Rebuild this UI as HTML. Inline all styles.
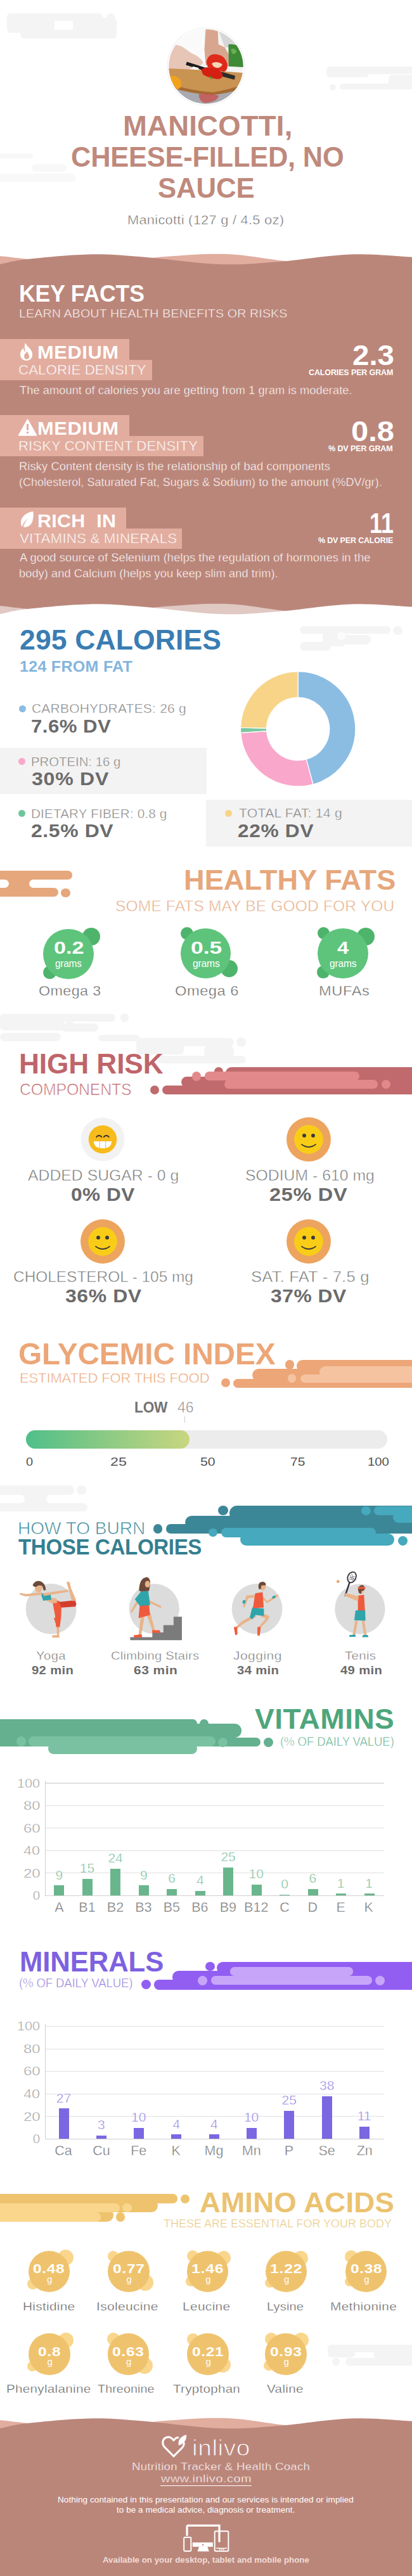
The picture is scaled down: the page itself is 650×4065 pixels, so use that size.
<!DOCTYPE html>
<html><head><meta charset="utf-8"><style>
html,body{margin:0;padding:0;background:#fff;}
body{width:650px;height:4065px;position:relative;overflow:hidden;font-family:"Liberation Sans",sans-serif;}
.t{position:absolute;white-space:pre;}
.b{position:absolute;}
</style></head><body>
<div class="b" style="left:10.7px;top:20.7px;width:151.0px;height:12.6px;background:#f4f4f4;border-radius:6.3px;"></div>
<div class="b" style="left:10.7px;top:20.7px;width:75.7px;height:31.3px;background:#f4f4f4;border-radius:6.0px;"></div>
<div class="b" style="left:115.0px;top:28.0px;width:69.0px;height:32.5px;background:#f4f4f4;border-radius:6.0px;"></div>
<div class="b" style="left:31.6px;top:47.0px;width:151.9px;height:13.5px;background:#f4f4f4;border-radius:6.8px;"></div>
<div class="b" style="left:167.5px;top:20.5px;width:13.0px;height:13.0px;background:#f4f4f4;border-radius:50%;"></div>
<div class="b" style="left:514.6px;top:104.6px;width:145.4px;height:12.7px;background:#f4f4f4;border-radius:6.4px;"></div>
<div class="b" style="left:514.6px;top:104.6px;width:67.4px;height:17.4px;background:#f4f4f4;border-radius:6.0px;"></div>
<div class="b" style="left:613.0px;top:118.0px;width:47.0px;height:23.0px;background:#f4f4f4;border-radius:6.0px;"></div>
<div class="b" style="left:536.4px;top:131.9px;width:123.6px;height:9.1px;background:#f4f4f4;border-radius:4.5px;"></div>
<div class="b" style="left:519.5px;top:133.0px;width:10.0px;height:10.0px;background:#f4f4f4;border-radius:50%;"></div>
<div class="b" style="left:-10.0px;top:241.6px;width:62.0px;height:8.8px;background:#f8f8f8;border-radius:4.4px;"></div>
<div class="b" style="left:49.5px;top:259.0px;width:55.5px;height:12.0px;background:#f8f8f8;border-radius:6.0px;"></div>
<div class="b" style="left:-10.0px;top:273.7px;width:130.0px;height:13.1px;background:#f8f8f8;border-radius:6.6px;"></div>
<svg class="b" style="left:260px;top:40px" width="130" height="130" viewBox="0 0 412 412">
<defs><clipPath id="ci"><circle cx="206" cy="206" r="186"/></clipPath></defs>
<circle cx="206" cy="206" r="195" fill="#ececec"/>
<circle cx="206" cy="206" r="192" fill="#ffffff"/>
<g clip-path="url(#ci)">
<rect x="0" y="0" width="412" height="412" fill="#f3f3f3"/>
<path d="M260 0 L412 0 L412 110 L300 110 Z" fill="#d6d6d6"/>
<path d="M60 20 L195 20 L205 190 L70 190 Z" fill="#fafafa"/>
<path d="M205 15 L265 15 L268 95 L300 110 L322 150 L325 205 L205 200 L198 120 Z" fill="#d8a68f"/>
<path d="M318 95 Q360 90 395 120 L400 210 L320 205 Z" fill="#3e8a36"/>
<path d="M330 120 Q345 110 360 130 Q350 150 335 140 Z" fill="#69ad55"/>
<path d="M0 95 Q40 90 85 105 L135 140 Q175 155 192 185 Q185 205 160 200 L115 225 L60 230 L0 225 Z" fill="#e7c5b7"/>
<path d="M0 300 L412 300 L412 412 L0 412 Z" fill="#a9a9b1"/>
<path d="M15 215 Q200 222 400 238 L400 300 Q300 325 240 340 Q120 335 15 300 Z" fill="#c99352"/>
<path d="M15 290 Q120 325 240 335 Q320 322 400 295 L400 310 Q320 340 240 348 Q120 342 15 305 Z" fill="#a56a31"/>
<path d="M110 182 L205 212 L200 228 L105 198 Z" fill="#1c1c1c"/>
<path d="M205 210 L352 252 L348 272 L200 232 Z" fill="#2b2b2b"/>
<path d="M140 205 L170 213 L168 222 L138 214 Z" fill="#ffffff"/>
<path d="M208 185 Q215 140 260 145 Q300 150 312 190 Q318 225 295 232 L270 225 Q240 212 215 210 Z" fill="#de2a1a"/>
<path d="M235 190 Q260 175 288 195 Q280 215 258 212 Q240 208 235 190 Z" fill="#f3d6b8"/>
<path d="M182 222 Q200 205 240 212 Q285 220 290 250 Q285 272 255 268 Q215 262 190 245 Z" fill="#d51f12"/>
<path d="M222 255 Q230 250 240 262 L232 270 Z" fill="#5a8a2a"/>
<path d="M25 255 Q55 245 80 275 Q88 305 70 318 Q45 322 30 300 Z" fill="#f2a11e"/>
<path d="M170 345 Q220 335 270 352 Q260 385 200 388 Q170 380 170 345 Z" fill="#c84c48" opacity="0.75"/>
</g></svg>
<div class="t" style="left:193.75px;top:177.15px;font-size:44.30px;line-height:44.30px;color:#bf897c;font-weight:bold;letter-spacing:0.237px;transform:scaleX(1.0260);transform-origin:0 0;">MANICOTTI,</div>
<div class="t" style="left:111.57px;top:226.24px;font-size:44.30px;line-height:44.30px;color:#bf897c;font-weight:bold;letter-spacing:-0.196px;transform:scaleX(0.9791);transform-origin:0 0;">CHEESE-FILLED, NO</div>
<div class="t" style="left:249.21px;top:274.95px;font-size:44.30px;line-height:44.30px;color:#bf897c;font-weight:bold;letter-spacing:-0.151px;transform:scaleX(0.9882);transform-origin:0 0;">SAUCE</div>
<div class="t" style="left:201.25px;top:337.00px;font-size:20.00px;line-height:20.00px;color:#666666;letter-spacing:0.244px;transform:scaleX(1.0918);transform-origin:0 0;-webkit-text-stroke:0.50px #fff;">Manicotti (127 g / 4.5 oz)</div>
<svg class="b" style="left:0;top:390px" width="650" height="600" viewBox="0 390 650 600"><path d="M-10.00 403.50 C-8.33 403.58 -9.17 403.08 0.00 404.00 C9.17 404.92 21.83 406.67 45.00 409.00 C68.17 411.33 103.17 418.67 139.00 418.00 C174.83 417.33 223.33 407.83 260.00 405.00 C296.67 402.17 327.17 399.83 359.00 401.00 C390.83 402.17 418.67 408.83 451.00 412.00 C483.33 415.17 519.83 419.67 553.00 420.00 C586.17 420.33 632.17 415.17 650.00 414.00 C667.83 412.83 658.33 413.17 660.00 413.00 L660.00 440.00 L-10.00 440.00 Z" fill="#e1ad9f"/><path d="M-10.00 419.00 C-8.33 418.67 -8.83 418.67 0.00 417.00 C8.83 415.33 19.83 411.60 43.00 409.00 C66.17 406.40 109.50 402.07 139.00 401.40 C168.50 400.73 185.50 402.40 220.00 405.00 C254.50 407.60 309.33 415.67 346.00 417.00 C382.67 418.33 405.50 415.60 440.00 413.00 C474.50 410.40 518.00 402.63 553.00 401.40 C588.00 400.17 632.17 404.75 650.00 405.60 C667.83 406.45 658.33 406.35 660.00 406.50 L660.00 990.00 L-10.00 990.00 Z" fill="#bb867a"/><path d="M-10.00 955.50 C-8.33 955.58 -9.17 955.08 0.00 956.00 C9.17 956.92 21.83 958.67 45.00 961.00 C68.17 963.33 103.17 970.67 139.00 970.00 C174.83 969.33 223.33 959.83 260.00 957.00 C296.67 954.17 327.17 951.83 359.00 953.00 C390.83 954.17 418.67 960.83 451.00 964.00 C483.33 967.17 519.83 971.67 553.00 972.00 C586.17 972.33 632.17 967.17 650.00 966.00 C667.83 964.83 658.33 965.17 660.00 965.00 L660.00 990.00 L-10.00 990.00 Z" fill="#ffffff" opacity="0.55"/><path d="M-10.00 971.00 C-8.33 970.67 -8.83 970.67 0.00 969.00 C8.83 967.33 19.83 963.60 43.00 961.00 C66.17 958.40 109.50 954.07 139.00 953.40 C168.50 952.73 185.50 954.40 220.00 957.00 C254.50 959.60 309.33 967.67 346.00 969.00 C382.67 970.33 405.50 967.60 440.00 965.00 C474.50 962.40 518.00 954.63 553.00 953.40 C588.00 952.17 632.17 956.75 650.00 957.60 C667.83 958.45 658.33 958.35 660.00 958.50 L660.00 990.00 L-10.00 990.00 Z" fill="#ffffff"/></svg>
<div class="t" style="left:29.69px;top:446.23px;font-size:36.20px;line-height:36.20px;color:#ffffff;font-weight:bold;letter-spacing:-0.141px;transform:scaleX(0.9833);transform-origin:0 0;">KEY FACTS</div>
<div class="t" style="left:30.43px;top:485.25px;font-size:19.00px;line-height:19.00px;color:#ffffff;letter-spacing:0.121px;transform:scaleX(1.0326);transform-origin:0 0;-webkit-text-stroke:0.50px #bb867a;">LEARN ABOUT HEALTH BENEFITS OR RISKS</div>
<div class="b" style="left:0.0px;top:535.0px;width:204.0px;height:33.0px;background:#e2ad9f;border-radius:0.0px;"></div>
<div class="b" style="left:0.0px;top:567.5px;width:240.3px;height:32.0px;background:#e2ad9f;border-radius:0.0px;"></div>
<div class="t" style="left:59.00px;top:541.65px;font-size:29.00px;line-height:29.00px;color:#ffffff;font-weight:bold;letter-spacing:0.575px;transform:scaleX(1.0626);transform-origin:0 0;">MEDIUM</div>
<div class="t" style="left:29.38px;top:572.60px;font-size:22.00px;line-height:22.00px;color:#ffffff;letter-spacing:0.064px;transform:scaleX(1.0139);transform-origin:0 0;-webkit-text-stroke:0.50px #e2ad9f;">CALORIE DENSITY</div>
<div class="t" style="left:556.18px;top:538.67px;font-size:44.50px;line-height:44.50px;color:#ffffff;font-weight:bold;transform:scaleX(1.0668);transform-origin:0 0;">2.3</div>
<div class="t" style="left:486.80px;top:580.85px;font-size:13.00px;line-height:13.00px;color:#ffffff;font-weight:bold;letter-spacing:-0.120px;transform:scaleX(0.9603);transform-origin:0 0;">CALORIES PER GRAM</div>
<div class="t" style="left:30.64px;top:607.83px;font-size:17.50px;line-height:17.50px;color:#ffffff;letter-spacing:0.099px;transform:scaleX(1.0386);transform-origin:0 0;-webkit-text-stroke:0.40px #bb867a;">The amount of calories you are getting from 1 gram is moderate.</div>
<div class="b" style="left:0.0px;top:655.0px;width:204.0px;height:33.0px;background:#e2ad9f;border-radius:0.0px;"></div>
<div class="b" style="left:0.0px;top:687.5px;width:320.9px;height:32.0px;background:#e2ad9f;border-radius:0.0px;"></div>
<div class="t" style="left:59.00px;top:661.65px;font-size:29.00px;line-height:29.00px;color:#ffffff;font-weight:bold;letter-spacing:0.575px;transform:scaleX(1.0626);transform-origin:0 0;">MEDIUM</div>
<div class="t" style="left:28.72px;top:692.60px;font-size:22.00px;line-height:22.00px;color:#ffffff;letter-spacing:0.047px;transform:scaleX(1.0104);transform-origin:0 0;-webkit-text-stroke:0.50px #e2ad9f;">RISKY CONTENT DENSITY</div>
<div class="t" style="left:553.69px;top:658.67px;font-size:44.50px;line-height:44.50px;color:#ffffff;font-weight:bold;transform:scaleX(1.0999);transform-origin:0 0;">0.8</div>
<div class="t" style="left:518.45px;top:700.85px;font-size:13.00px;line-height:13.00px;color:#ffffff;font-weight:bold;letter-spacing:-0.111px;transform:scaleX(0.9637);transform-origin:0 0;">% DV PER GRAM</div>
<div class="t" style="left:29.54px;top:727.83px;font-size:17.50px;line-height:17.50px;color:#ffffff;letter-spacing:0.111px;transform:scaleX(1.0435);transform-origin:0 0;-webkit-text-stroke:0.40px #bb867a;">Risky Content density is the relationship of bad components</div>
<div class="t" style="left:29.93px;top:752.53px;font-size:17.50px;line-height:17.50px;color:#ffffff;letter-spacing:0.062px;transform:scaleX(1.0233);transform-origin:0 0;-webkit-text-stroke:0.40px #bb867a;">(Cholesterol, Saturated Fat, Sugars &amp; Sodium) to the amount (%DV/gr).</div>
<div class="b" style="left:0.0px;top:801.0px;width:199.0px;height:33.0px;background:#e2ad9f;border-radius:0.0px;"></div>
<div class="b" style="left:0.0px;top:833.5px;width:287.4px;height:32.0px;background:#e2ad9f;border-radius:0.0px;"></div>
<div class="t" style="left:59.02px;top:807.65px;font-size:29.00px;line-height:29.00px;color:#ffffff;font-weight:bold;letter-spacing:0.318px;transform:scaleX(1.0485);transform-origin:0 0;">RICH  IN</div>
<div class="t" style="left:30.50px;top:838.60px;font-size:22.00px;line-height:22.00px;color:#ffffff;letter-spacing:0.089px;transform:scaleX(1.0203);transform-origin:0 0;-webkit-text-stroke:0.50px #e2ad9f;">VITAMINS &amp; MINERALS</div>
<div class="t" style="left:583.14px;top:804.27px;font-size:44.50px;line-height:44.50px;color:#ffffff;font-weight:bold;transform:scaleX(0.8085);transform-origin:0 0;">11</div>
<div class="t" style="left:501.55px;top:846.25px;font-size:13.00px;line-height:13.00px;color:#ffffff;font-weight:bold;letter-spacing:-0.128px;transform:scaleX(0.9560);transform-origin:0 0;">% DV PER CALORIE</div>
<div class="t" style="left:31.00px;top:872.33px;font-size:17.50px;line-height:17.50px;color:#ffffff;letter-spacing:0.114px;transform:scaleX(1.0446);transform-origin:0 0;-webkit-text-stroke:0.40px #bb867a;">A good source of Selenium (helps the regulation of hormones in the</div>
<div class="t" style="left:29.91px;top:896.62px;font-size:17.50px;line-height:17.50px;color:#ffffff;letter-spacing:0.098px;transform:scaleX(1.0379);transform-origin:0 0;-webkit-text-stroke:0.40px #bb867a;">body) and Calcium (helps you keep slim and trim).</div>
<svg class="b" style="left:30px;top:541px" width="24" height="28" viewBox="0 0 24 28">
<path d="M10 0 C12 6 20 9 21 17 C22 24 17 28 12 28 C6 28 2 24 2 18 C2 13 5 10 7 8 C7 12 9 14 10 14 C9 9 8 5 10 0 Z M12 26 C15 26 17 23 16 20 C15 17 13 16 13 13 C11 16 8 18 8 21 C8 24 10 26 12 26 Z" fill="#ffffff" fill-rule="evenodd"/>
</svg>
<svg class="b" style="left:29px;top:661px" width="29" height="27" viewBox="0 0 29 27">
<path d="M14.5 1 L28.5 26 L0.5 26 Z" fill="#ffffff" stroke="#ffffff" stroke-width="1.5" stroke-linejoin="round"/>
<rect x="13" y="8" width="3" height="10" fill="#e2ad9f"/>
<rect x="13" y="20" width="3" height="3" fill="#e2ad9f"/>
</svg>
<svg class="b" style="left:32px;top:807px" width="22" height="26" viewBox="0 0 22 26">
<path d="M20 0 C8 2 0 10 1 19 C1 21 2 23 3 24 C5 18 8 14 12 11 C9 15 6 19 5 25 C13 26 19 20 20 12 C21 8 21 3 20 0 Z" fill="#ffffff"/>
</svg>
<div class="b" style="left:472.9px;top:987.9px;width:142.8px;height:11.8px;background:#f4f4f4;border-radius:5.9px;"></div>
<div class="b" style="left:620.4px;top:987.7px;width:14.6px;height:14.6px;background:#f4f4f4;border-radius:50%;"></div>
<div class="b" style="left:508.7px;top:990.0px;width:36.3px;height:30.0px;background:#f4f4f4;border-radius:6.0px;"></div>
<div class="b" style="left:530.0px;top:1001.8px;width:55.0px;height:15.3px;background:#f4f4f4;border-radius:7.7px;"></div>
<div class="b" style="left:472.9px;top:1012.8px;width:48.9px;height:14.4px;background:#f4f4f4;border-radius:7.2px;"></div>
<div class="b" style="left:531.5px;top:996.5px;width:13.0px;height:13.0px;background:#fcfcfc;border-radius:50%;"></div>
<div class="t" style="left:30.66px;top:988.00px;font-size:44.00px;line-height:44.00px;color:#3a7db3;font-weight:bold;letter-spacing:0.113px;transform:scaleX(1.0121);transform-origin:0 0;">295 CALORIES</div>
<div class="t" style="left:30.70px;top:1040.83px;font-size:23.50px;line-height:23.50px;color:#84b5dd;font-weight:bold;letter-spacing:0.293px;transform:scaleX(1.0632);transform-origin:0 0;">124 FROM FAT</div>
<div class="b" style="left:0.0px;top:1180.0px;width:326.0px;height:73.4px;background:#f3f3f3;border-radius:0.0px;"></div>
<div class="b" style="left:325.0px;top:1262.0px;width:325.0px;height:74.0px;background:#f3f3f3;border-radius:0.0px;"></div>
<div class="b" style="left:29.9px;top:1112.7px;width:11.2px;height:11.2px;background:#8bbde3;border-radius:50%;"></div>
<div class="t" style="left:50.05px;top:1108.30px;font-size:20.00px;line-height:20.00px;color:#7a7a7a;letter-spacing:0.197px;transform:scaleX(1.0494);transform-origin:0 0;-webkit-text-stroke:0.50px #fff;">CARBOHYDRATES: 26 g</div>
<div class="t" style="left:49.05px;top:1132.45px;font-size:29.00px;line-height:29.00px;color:#6b6b6b;font-weight:bold;letter-spacing:0.438px;transform:scaleX(1.0749);transform-origin:0 0;">7.6% DV</div>
<div class="b" style="left:29.2px;top:1195.9px;width:11.2px;height:11.2px;background:#f9a8cb;border-radius:50%;"></div>
<div class="t" style="left:49.48px;top:1191.70px;font-size:20.00px;line-height:20.00px;color:#7a7a7a;letter-spacing:0.047px;transform:scaleX(1.0127);transform-origin:0 0;-webkit-text-stroke:0.50px #f3f3f3;">PROTEIN: 16 g</div>
<div class="t" style="left:49.66px;top:1215.05px;font-size:29.00px;line-height:29.00px;color:#6b6b6b;font-weight:bold;letter-spacing:0.671px;transform:scaleX(1.1054);transform-origin:0 0;">30% DV</div>
<div class="b" style="left:29.2px;top:1277.9px;width:11.2px;height:11.2px;background:#6ec79a;border-radius:50%;"></div>
<div class="t" style="left:49.44px;top:1273.60px;font-size:20.00px;line-height:20.00px;color:#7a7a7a;letter-spacing:0.122px;transform:scaleX(1.0357);transform-origin:0 0;-webkit-text-stroke:0.50px #fff;">DIETARY FIBER: 0.8 g</div>
<div class="t" style="left:49.34px;top:1297.25px;font-size:29.00px;line-height:29.00px;color:#6b6b6b;font-weight:bold;letter-spacing:0.569px;transform:scaleX(1.0993);transform-origin:0 0;">2.5% DV</div>
<div class="b" style="left:355.1px;top:1277.6px;width:11.2px;height:11.2px;background:#f8d488;border-radius:50%;"></div>
<div class="t" style="left:376.78px;top:1273.20px;font-size:20.00px;line-height:20.00px;color:#7a7a7a;letter-spacing:0.205px;transform:scaleX(1.0615);transform-origin:0 0;-webkit-text-stroke:0.50px #f3f3f3;">TOTAL FAT: 14 g</div>
<div class="t" style="left:375.25px;top:1297.15px;font-size:29.00px;line-height:29.00px;color:#6b6b6b;font-weight:bold;letter-spacing:0.596px;transform:scaleX(1.0928);transform-origin:0 0;">22% DV</div>
<svg class="b" style="left:0;top:0" width="650" height="1300" viewBox="0 0 650 1300"><path d="M470.20 1059.70 A90.60 90.60 0 0 1 493.95 1237.73 L483.20 1198.16 A49.60 49.60 0 0 0 470.20 1100.70 Z" fill="#8bbde3" stroke="#fff" stroke-width="1.2"/><path d="M493.95 1237.73 A90.60 90.60 0 0 1 379.80 1156.30 L420.71 1153.59 A49.60 49.60 0 0 0 483.20 1198.16 Z" fill="#f9a8cb" stroke="#fff" stroke-width="1.2"/><path d="M379.80 1156.30 A90.60 90.60 0 0 1 379.62 1148.24 L420.61 1149.17 A49.60 49.60 0 0 0 420.71 1153.59 Z" fill="#7cc8a0" stroke="#fff" stroke-width="1.2"/><path d="M379.62 1148.24 A90.60 90.60 0 0 1 470.20 1059.70 L470.20 1100.70 A49.60 49.60 0 0 0 420.61 1149.17 Z" fill="#f8d488" stroke="#fff" stroke-width="1.2"/></svg>
<div class="b" style="left:-20.0px;top:1374.2px;width:133.6px;height:13.6px;background:#e6a77c;border-radius:6.8px;"></div>
<div class="b" style="left:-20.0px;top:1401.0px;width:111.5px;height:14.2px;background:#e6a77c;border-radius:7.1px;"></div>
<div class="b" style="left:-20.0px;top:1380.0px;width:100.0px;height:28.0px;background:#e6a77c;border-radius:0.0px;"></div>
<div class="b" style="left:-20.0px;top:1387.8px;width:34.2px;height:13.2px;background:#ffffff;border-radius:6.6px;"></div>
<div class="b" style="left:45.8px;top:1387.8px;width:84.2px;height:13.2px;background:#ffffff;border-radius:6.6px;"></div>
<div class="b" style="left:96.4px;top:1401.6px;width:14.4px;height:14.4px;background:#e6a77c;border-radius:50%;"></div>
<div class="t" style="left:289.86px;top:1365.75px;font-size:45.00px;line-height:45.00px;color:#e6a77c;font-weight:bold;letter-spacing:0.042px;transform:scaleX(1.0043);transform-origin:0 0;">HEALTHY FATS</div>
<div class="t" style="left:181.69px;top:1418.10px;font-size:24.00px;line-height:24.00px;color:#e8b08b;letter-spacing:0.121px;transform:scaleX(1.0247);transform-origin:0 0;-webkit-text-stroke:0.50px #fff;">SOME FATS MAY BE GOOD FOR YOU</div>
<div class="b" style="left:130.0px;top:1463.6px;width:28.0px;height:28.0px;background:#4eb36b;border-radius:50%;"></div>
<div class="b" style="left:67.5px;top:1523.5px;width:21.0px;height:21.0px;background:#4eb36b;border-radius:50%;"></div>
<div class="b" style="left:68.0px;top:1465.6px;width:79.6px;height:79.6px;background:#5ec47c;border-radius:50%;"></div>
<div class="t" style="left:85.20px;top:1482.22px;font-size:27.50px;line-height:27.50px;color:#ffffff;font-weight:bold;transform:scaleX(1.2452);transform-origin:0 0;">0.2</div>
<div class="t" style="left:87.28px;top:1511.97px;font-size:16.50px;line-height:16.50px;color:#ffffff;letter-spacing:-0.263px;transform:scaleX(0.9339);transform-origin:0 0;">grams</div>
<div class="t" style="left:60.55px;top:1554.02px;font-size:21.50px;line-height:21.50px;color:#6a6a6a;letter-spacing:0.371px;transform:scaleX(1.0837);transform-origin:0 0;-webkit-text-stroke:0.40px #fff;">Omega 3</div>
<div class="b" style="left:284.5px;top:1463.0px;width:20.0px;height:20.0px;background:#4eb36b;border-radius:50%;"></div>
<div class="b" style="left:348.0px;top:1515.1px;width:27.0px;height:27.0px;background:#4eb36b;border-radius:50%;"></div>
<div class="b" style="left:284.9px;top:1464.8px;width:79.6px;height:79.6px;background:#5ec47c;border-radius:50%;"></div>
<div class="t" style="left:301.06px;top:1482.22px;font-size:27.50px;line-height:27.50px;color:#ffffff;font-weight:bold;transform:scaleX(1.2905);transform-origin:0 0;">0.5</div>
<div class="t" style="left:303.67px;top:1511.97px;font-size:16.50px;line-height:16.50px;color:#ffffff;letter-spacing:-0.193px;transform:scaleX(0.9507);transform-origin:0 0;">grams</div>
<div class="t" style="left:275.63px;top:1554.02px;font-size:21.50px;line-height:21.50px;color:#6a6a6a;letter-spacing:0.448px;transform:scaleX(1.1028);transform-origin:0 0;-webkit-text-stroke:0.40px #fff;">Omega 6</div>
<div class="b" style="left:500.7px;top:1462.7px;width:19.6px;height:19.6px;background:#4eb36b;border-radius:50%;"></div>
<div class="b" style="left:563.0px;top:1464.0px;width:28.0px;height:28.0px;background:#4eb36b;border-radius:50%;"></div>
<div class="b" style="left:500.2px;top:1524.2px;width:19.6px;height:19.6px;background:#4eb36b;border-radius:50%;"></div>
<div class="b" style="left:501.0px;top:1464.8px;width:79.6px;height:79.6px;background:#5ec47c;border-radius:50%;"></div>
<div class="t" style="left:531.91px;top:1482.22px;font-size:27.50px;line-height:27.50px;color:#ffffff;font-weight:bold;transform:scaleX(1.1852);transform-origin:0 0;">4</div>
<div class="t" style="left:520.18px;top:1511.97px;font-size:16.50px;line-height:16.50px;color:#ffffff;letter-spacing:-0.221px;transform:scaleX(0.9440);transform-origin:0 0;">grams</div>
<div class="t" style="left:502.91px;top:1554.02px;font-size:21.50px;line-height:21.50px;color:#6a6a6a;letter-spacing:0.520px;transform:scaleX(1.1009);transform-origin:0 0;-webkit-text-stroke:0.40px #fff;">MUFAs</div>
<div class="b" style="left:0.0px;top:1599.6px;width:181.5px;height:12.8px;background:#f4f4f4;border-radius:6.4px;"></div>
<div class="b" style="left:189.5px;top:1599.3px;width:13.4px;height:13.4px;background:#f4f4f4;border-radius:50%;"></div>
<div class="b" style="left:0.0px;top:1605.0px;width:101.0px;height:21.0px;background:#f4f4f4;border-radius:6.0px;"></div>
<div class="b" style="left:101.5px;top:1610.5px;width:15.0px;height:15.0px;background:#f4f4f4;border-radius:50%;"></div>
<div class="b" style="left:96.0px;top:1615.0px;width:59.0px;height:13.0px;background:#f4f4f4;border-radius:6.5px;"></div>
<div class="b" style="left:0.0px;top:1630.0px;width:96.0px;height:13.4px;background:#f4f4f4;border-radius:6.7px;"></div>
<div class="b" style="left:155.0px;top:1633.0px;width:65.0px;height:10.4px;background:#f4f4f4;border-radius:5.2px;"></div>
<div class="b" style="left:214.7px;top:1638.4px;width:154.6px;height:12.6px;background:#f4f4f4;border-radius:6.3px;"></div>
<div class="b" style="left:372.5px;top:1637.2px;width:15.0px;height:15.0px;background:#f4f4f4;border-radius:50%;"></div>
<div class="b" style="left:214.7px;top:1645.0px;width:75.7px;height:18.6px;background:#f4f4f4;border-radius:6.0px;"></div>
<div class="b" style="left:322.0px;top:1651.0px;width:47.0px;height:17.0px;background:#f4f4f4;border-radius:6.0px;"></div>
<div class="b" style="left:249.4px;top:1665.5px;width:138.8px;height:12.5px;background:#f4f4f4;border-radius:6.2px;"></div>
<div class="t" style="left:30.12px;top:1655.92px;font-size:44.80px;line-height:44.80px;color:#bf656a;font-weight:bold;letter-spacing:-0.119px;transform:scaleX(0.9877);transform-origin:0 0;">HIGH RISK</div>
<div class="t" style="left:30.56px;top:1706.94px;font-size:25.60px;line-height:25.60px;color:#bf656a;letter-spacing:-0.192px;transform:scaleX(0.9722);transform-origin:0 0;-webkit-text-stroke:0.70px #fff;">COMPONENTS</div>
<div class="b" style="left:236.6px;top:1712.5px;width:14.6px;height:14.6px;background:#c06a6d;border-radius:50%;"></div>
<div class="b" style="left:256.2px;top:1712.5px;width:443.8px;height:14.5px;background:#c06a6d;border-radius:7.2px;"></div>
<div class="b" style="left:286.4px;top:1698.7px;width:413.6px;height:17.3px;background:#c06a6d;border-radius:8.6px;"></div>
<div class="b" style="left:338.4px;top:1684.0px;width:13.6px;height:13.6px;background:#c06a6d;border-radius:50%;"></div>
<div class="b" style="left:355.6px;top:1684.0px;width:344.4px;height:18.0px;background:#c06a6d;border-radius:9.0px;"></div>
<div class="b" style="left:302.7px;top:1691.4px;width:14.6px;height:14.6px;background:#e28a8b;border-radius:50%;"></div>
<div class="b" style="left:322.8px;top:1691.4px;width:244.5px;height:13.6px;background:#e28a8b;border-radius:6.8px;"></div>
<div class="b" style="left:353.8px;top:1704.0px;width:242.7px;height:14.0px;background:#e28a8b;border-radius:7.0px;"></div>
<div class="b" style="left:602.1px;top:1703.8px;width:14.4px;height:14.4px;background:#e28a8b;border-radius:50%;"></div>
<svg class="b" style="left:127.3px;top:1763.2px" width="70" height="70" viewBox="-35 -35 70 70"><circle r="34.5" fill="#f2f2f2"/><circle r="22.3" fill="#f7bb1c"/><path d="M-10 -3 A4.5 4.5 0 0 1 -1.5 -3 M1.5 -3 A4.5 4.5 0 0 1 10 -3" stroke="#333" stroke-width="1.8" fill="none"/><path d="M-14 3 L14 3 Q14 14 0 14 Q-14 14 -14 3 Z" fill="#ffffff"/><path d="M-4.7 3 V13.5 M4.7 3 V13.5" stroke="#bbbbbb" stroke-width="1"/></svg>
<svg class="b" style="left:451.3px;top:1762.2px" width="72" height="72" viewBox="-36 -36 72 72"><circle r="35" fill="#eda45f"/><circle r="22.8" fill="#f9cd17"/><circle cx="-7" cy="-6" r="3" fill="#3a3a3a"/><circle cx="7" cy="-6" r="3" fill="#3a3a3a"/><path d="M-11 8 Q0 16 11 8" stroke="#3a3a3a" stroke-width="1.8" fill="none" stroke-linecap="round"/></svg>
<svg class="b" style="left:125.8px;top:1923.0px" width="72" height="72" viewBox="-36 -36 72 72"><circle r="35" fill="#eda45f"/><circle r="22.8" fill="#f9cd17"/><circle cx="-7" cy="-6" r="3" fill="#3a3a3a"/><circle cx="7" cy="-6" r="3" fill="#3a3a3a"/><path d="M-11 8 Q0 16 11 8" stroke="#3a3a3a" stroke-width="1.8" fill="none" stroke-linecap="round"/></svg>
<svg class="b" style="left:450.8px;top:1923.0px" width="72" height="72" viewBox="-36 -36 72 72"><circle r="35" fill="#eda45f"/><circle r="22.8" fill="#f9cd17"/><circle cx="-7" cy="-6" r="3" fill="#3a3a3a"/><circle cx="7" cy="-6" r="3" fill="#3a3a3a"/><path d="M-11 8 Q0 16 11 8" stroke="#3a3a3a" stroke-width="1.8" fill="none" stroke-linecap="round"/></svg>
<div class="t" style="left:44.30px;top:1843.17px;font-size:24.50px;line-height:24.50px;color:#7b7b7b;letter-spacing:0.042px;transform:scaleX(1.0087);transform-origin:0 0;-webkit-text-stroke:0.50px #fff;">ADDED SUGAR - 0 g</div>
<div class="t" style="left:112.10px;top:1870.42px;font-size:29.50px;line-height:29.50px;color:#6b6b6b;font-weight:bold;letter-spacing:0.493px;transform:scaleX(1.0699);transform-origin:0 0;">0% DV</div>
<div class="t" style="left:386.89px;top:1843.17px;font-size:24.50px;line-height:24.50px;color:#7b7b7b;letter-spacing:0.040px;transform:scaleX(1.0085);transform-origin:0 0;-webkit-text-stroke:0.50px #fff;">SODIUM - 610 mg</div>
<div class="t" style="left:425.03px;top:1870.42px;font-size:29.50px;line-height:29.50px;color:#6b6b6b;font-weight:bold;letter-spacing:0.651px;transform:scaleX(1.1003);transform-origin:0 0;">25% DV</div>
<div class="t" style="left:21.18px;top:2002.97px;font-size:24.50px;line-height:24.50px;color:#7b7b7b;letter-spacing:-0.014px;transform:scaleX(0.9972);transform-origin:0 0;-webkit-text-stroke:0.50px #fff;">CHOLESTEROL - 105 mg</div>
<div class="t" style="left:102.56px;top:2030.02px;font-size:29.50px;line-height:29.50px;color:#6b6b6b;font-weight:bold;letter-spacing:0.546px;transform:scaleX(1.0826);transform-origin:0 0;">36% DV</div>
<div class="t" style="left:396.45px;top:2002.97px;font-size:24.50px;line-height:24.50px;color:#7b7b7b;letter-spacing:0.169px;transform:scaleX(1.0460);transform-origin:0 0;-webkit-text-stroke:0.50px #fff;">SAT. FAT - 7.5 g</div>
<div class="t" style="left:426.87px;top:2030.02px;font-size:29.50px;line-height:29.50px;color:#6b6b6b;font-weight:bold;letter-spacing:0.507px;transform:scaleX(1.0763);transform-origin:0 0;">37% DV</div>
<div class="t" style="left:29.09px;top:2111.55px;font-size:48.30px;line-height:48.30px;color:#eca678;font-weight:bold;letter-spacing:-0.116px;transform:scaleX(0.9891);transform-origin:0 0;">GLYCEMIC INDEX</div>
<div class="t" style="left:30.54px;top:2164.07px;font-size:22.50px;line-height:22.50px;color:#eca678;letter-spacing:-0.111px;transform:scaleX(0.9766);transform-origin:0 0;-webkit-text-stroke:0.50px #fff;">ESTIMATED FOR THIS FOOD</div>
<div class="b" style="left:348.5px;top:2175.3px;width:14.0px;height:14.0px;background:#eca678;border-radius:50%;"></div>
<div class="b" style="left:368.0px;top:2175.5px;width:332.0px;height:14.5px;background:#eca678;border-radius:7.2px;"></div>
<div class="b" style="left:398.3px;top:2160.0px;width:301.7px;height:20.0px;background:#eca678;border-radius:10.0px;"></div>
<div class="b" style="left:449.8px;top:2146.4px;width:14.4px;height:14.4px;background:#eca678;border-radius:50%;"></div>
<div class="b" style="left:468.2px;top:2146.4px;width:231.8px;height:18.6px;background:#eca678;border-radius:9.3px;"></div>
<div class="b" style="left:453.5px;top:2168.4px;width:13.8px;height:13.8px;background:#f6c3a0;border-radius:50%;"></div>
<div class="b" style="left:474.0px;top:2168.5px;width:226.0px;height:13.6px;background:#f6c3a0;border-radius:6.8px;"></div>
<div class="b" style="left:503.6px;top:2155.7px;width:196.4px;height:19.3px;background:#f6c3a0;border-radius:9.7px;"></div>
<div class="t" style="left:211.63px;top:2209.55px;font-size:23.00px;line-height:23.00px;color:#737373;font-weight:bold;letter-spacing:-0.154px;transform:scaleX(0.9826);transform-origin:0 0;">LOW</div>
<div class="t" style="left:279.64px;top:2209.55px;font-size:23.00px;line-height:23.00px;color:#8a8a8a;transform:scaleX(1.0021);transform-origin:0 0;-webkit-text-stroke:0.50px #fff;">46</div>
<div class="b" style="left:291.3px;top:2235.0px;width:1.2px;height:10.0px;background:#cccccc;border-radius:0.0px;"></div>
<div class="b" style="left:41.0px;top:2256.9px;width:569.5px;height:28.8px;background:#ececec;border-radius:14.4px;"></div>
<div class="b" style="left:41.0px;top:2256.9px;width:258.0px;height:28.8px;background:linear-gradient(90deg,#50bf89,#c9d67f);border-radius:14.4px;"></div>
<div class="t" style="left:41.10px;top:2298.32px;font-size:18.80px;line-height:18.80px;color:#555555;transform:scaleX(1.0638);transform-origin:0 0;">0</div>
<div class="t" style="left:173.84px;top:2298.32px;font-size:18.80px;line-height:18.80px;color:#555555;transform:scaleX(1.2359);transform-origin:0 0;">25</div>
<div class="t" style="left:315.65px;top:2298.32px;font-size:18.80px;line-height:18.80px;color:#555555;transform:scaleX(1.1255);transform-origin:0 0;">50</div>
<div class="t" style="left:457.95px;top:2298.32px;font-size:18.80px;line-height:18.80px;color:#555555;transform:scaleX(1.1160);transform-origin:0 0;">75</div>
<div class="t" style="left:579.78px;top:2298.32px;font-size:18.80px;line-height:18.80px;color:#555555;transform:scaleX(1.0809);transform-origin:0 0;">100</div>
<div class="b" style="left:-20.0px;top:2344.3px;width:136.5px;height:14.5px;background:#f4f4f4;border-radius:7.2px;"></div>
<div class="b" style="left:121.3px;top:2344.2px;width:14.6px;height:14.6px;background:#f4f4f4;border-radius:50%;"></div>
<div class="b" style="left:-20.0px;top:2372.4px;width:158.3px;height:13.1px;background:#f4f4f4;border-radius:6.5px;"></div>
<div class="b" style="left:-20.0px;top:2350.0px;width:120.0px;height:30.0px;background:#f4f4f4;border-radius:0.0px;"></div>
<div class="b" style="left:-20.0px;top:2358.8px;width:58.8px;height:13.6px;background:#ffffff;border-radius:6.8px;"></div>
<div class="b" style="left:72.8px;top:2358.8px;width:77.2px;height:13.6px;background:#ffffff;border-radius:6.8px;"></div>
<div class="t" style="left:27.65px;top:2396.56px;font-size:28.40px;line-height:28.40px;color:#3f8a9b;letter-spacing:-0.070px;transform:scaleX(0.9897);transform-origin:0 0;-webkit-text-stroke:0.70px #fff;">HOW TO BURN</div>
<div class="t" style="left:28.87px;top:2424.42px;font-size:34.80px;line-height:34.80px;color:#357f90;font-weight:bold;letter-spacing:-0.400px;transform:scaleX(0.9517);transform-origin:0 0;">THOSE CALORIES</div>
<div class="b" style="left:241.8px;top:2405.2px;width:14.4px;height:14.4px;background:#3c8797;border-radius:50%;"></div>
<div class="b" style="left:262.1px;top:2405.2px;width:437.9px;height:14.4px;background:#3c8797;border-radius:7.2px;"></div>
<div class="b" style="left:292.4px;top:2391.7px;width:407.6px;height:21.3px;background:#3c8797;border-radius:10.7px;"></div>
<div class="b" style="left:344.4px;top:2376.2px;width:15.2px;height:15.2px;background:#3c8797;border-radius:50%;"></div>
<div class="b" style="left:362.2px;top:2376.2px;width:337.8px;height:23.8px;background:#3c8797;border-radius:11.9px;"></div>
<div class="b" style="left:329.3px;top:2411.6px;width:13.8px;height:13.8px;background:#46a9bd;border-radius:50%;"></div>
<div class="b" style="left:348.6px;top:2411.3px;width:244.3px;height:15.2px;background:#46a9bd;border-radius:7.6px;"></div>
<div class="b" style="left:378.7px;top:2420.0px;width:243.3px;height:19.3px;background:#46a9bd;border-radius:9.7px;"></div>
<div class="b" style="left:628.1px;top:2424.3px;width:15.0px;height:15.0px;background:#46a9bd;border-radius:50%;"></div>
<div class="b" style="left:570.0px;top:2376.9px;width:14.6px;height:14.6px;background:#46a9bd;border-radius:50%;"></div>
<div class="b" style="left:590.2px;top:2377.0px;width:109.8px;height:14.4px;background:#46a9bd;border-radius:7.2px;"></div>
<div class="b" style="left:620.0px;top:2385.0px;width:80.0px;height:18.0px;background:#46a9bd;border-radius:9.0px;"></div>
<svg class="b" style="left:20px;top:2480px" width="120" height="120" viewBox="0 0 412 412"><circle cx="208" cy="202" r="137" fill="#dcdcdc"/><path d="M222 250 L250 255 L248 300 L240 300 Z" fill="#ef5a3c"/><path d="M238 290 L252 290 L252 345 L240 345 Z" fill="#e9b48b"/><path d="M215 345 L252 343 L254 358 L215 358 Q212 352 215 345 Z" fill="#e9b48b"/><path d="M215 160 Q240 150 265 168 L262 250 L255 300 L235 300 L230 240 Z" fill="#ef5a3c"/><path d="M250 165 L338 155 L345 175 L340 190 L265 195 Z" fill="#d23d2c"/><path d="M320 160 L300 85 L312 80 L345 158 Z" fill="#e9b48b"/><path d="M292 58 Q300 50 310 60 L315 85 L300 88 Z" fill="#e9b48b"/><path d="M180 140 L238 145 L240 170 L215 172 L185 160 Z" fill="#e9b48b"/><path d="M152 118 L205 122 L210 152 L165 158 Z" fill="#2fa4ab"/><path d="M165 118 L300 98 L302 110 L168 132 Z" fill="#e9b48b"/><path d="M160 125 L70 135 L40 125 L38 115 L72 122 L158 112 Z" fill="#e9b48b"/><ellipse cx="140" cy="90" rx="20" ry="22" fill="#e9b48b"/><path d="M108 75 Q120 45 150 52 Q178 62 180 100 L168 102 L160 78 Q140 70 128 82 L118 82 Z" fill="#6c4a3a"/></svg>
<svg class="b" style="left:185px;top:2480px" width="120" height="120" viewBox="0 0 412 412"><circle cx="200" cy="202" r="136" fill="#dcdcdc"/><path d="M70 355 L190 355 L190 330 L250 330 L250 290 L305 290 L305 245 L350 245 L350 372 L70 372 Z" fill="#7b7b7b"/><path d="M128 240 L148 240 L130 345 L115 345 Z" fill="#e9b48b"/><path d="M88 345 L132 340 L135 356 L92 358 Z" fill="#ef5a3c"/><path d="M155 225 L180 225 L205 320 L192 322 Z" fill="#e9b48b"/><path d="M188 318 L230 318 L234 332 L190 332 Z" fill="#ef5a3c"/><path d="M122 180 L172 180 L178 235 L115 252 Z" fill="#ef5a3c"/><path d="M128 120 L140 128 L85 215 L75 225 L72 215 Z" fill="#e9b48b"/><path d="M165 150 L240 188 L236 198 L160 162 Z" fill="#e9b48b"/><path d="M128 108 L168 105 L178 182 L122 186 L95 150 Z" fill="#2fa4ab"/><path d="M118 100 Q120 35 160 30 Q182 35 178 70 L172 105 L125 108 Z" fill="#6c4a3a"/><ellipse cx="164" cy="68" rx="14" ry="18" fill="#e9b48b"/></svg>
<svg class="b" style="left:345px;top:2480px" width="120" height="120" viewBox="0 0 412 412"><circle cx="208" cy="202" r="137" fill="#dcdcdc"/><path d="M190 232 L205 245 L130 285 L100 310 L92 300 L125 270 Z" fill="#e9b48b"/><path d="M82 300 L100 300 L102 340 L90 345 Z" fill="#ef5a3c"/><path d="M232 225 L275 240 L270 258 L228 305 L216 300 L255 255 L228 245 Z" fill="#e9b48b"/><path d="M210 300 L228 300 L222 348 L210 346 Z" fill="#ef5a3c"/><path d="M182 195 L245 200 L245 240 L200 235 L182 258 L168 248 Z" fill="#2fa4ab"/><path d="M200 125 L150 130 L130 190 L140 195 L160 145 L205 140 Z" fill="#e9b48b"/><path d="M236 128 L262 160 L320 122 L325 132 L262 172 L230 140 Z" fill="#e9b48b"/><rect x="130" y="155" width="14" height="18" fill="#2fa4ab" transform="rotate(15 137 164)"/><rect x="290" y="132" width="18" height="12" fill="#2fa4ab" transform="rotate(-30 299 138)"/><path d="M198 118 L238 112 L244 195 L185 200 Z" fill="#ef5a3c"/><ellipse cx="238" cy="82" rx="17" ry="20" fill="#e9b48b"/><path d="M215 80 Q215 55 240 55 Q258 58 255 75 L232 75 L228 95 L218 95 Z" fill="#6c4a3a"/></svg>
<svg class="b" style="left:505px;top:2470px" width="120" height="120" viewBox="0 0 412 412"><circle cx="216" cy="237" r="136" fill="#dcdcdc"/><circle cx="97" cy="88" r="8" fill="#f0a472"/><ellipse cx="172" cy="65" rx="22" ry="30" fill="none" stroke="#2f2f3a" stroke-width="6" transform="rotate(25 172 65)"/><path d="M155 70 L190 60 M152 80 L188 72 M160 50 L180 90 M170 45 L185 85" stroke="#2f2f3a" stroke-width="2"/><path d="M160 92 L135 168" stroke="#2f2f3a" stroke-width="8"/><path d="M190 300 L205 300 L190 378 L176 378 Z" fill="#e9b48b"/><path d="M225 300 L240 300 L252 378 L238 378 Z" fill="#e9b48b"/><path d="M160 378 L192 376 L192 388 L158 388 Z" fill="#2fa4ab"/><path d="M232 378 L258 378 L262 390 L228 390 Z" fill="#2fa4ab"/><path d="M192 245 L244 242 L246 300 L185 298 Z" fill="#2fa4ab"/><path d="M205 165 L238 160 L243 245 L205 245 Z" fill="#ef5a3c"/><path d="M210 170 L140 150 L130 165 L205 195 Z" fill="#e9b48b"/><ellipse cx="222" cy="135" rx="16" ry="20" fill="#e9b48b"/><path d="M205 130 Q210 105 232 108 Q245 115 240 135 L225 140 L222 155 L210 150 Z" fill="#6c4a3a"/><path d="M205 118 L245 118 L245 128 L205 128 Z" fill="#ef5a3c"/></svg>
<div class="t" style="left:57.30px;top:2603.78px;font-size:18.50px;line-height:18.50px;color:#7a7a7a;letter-spacing:0.378px;transform:scaleX(1.0899);transform-origin:0 0;-webkit-text-stroke:0.40px #fff;">Yoga</div>
<div class="t" style="left:49.59px;top:2627.47px;font-size:18.50px;line-height:18.50px;color:#6b6b6b;font-weight:bold;letter-spacing:0.321px;transform:scaleX(1.0925);transform-origin:0 0;">92 min</div>
<div class="t" style="left:174.99px;top:2603.78px;font-size:18.50px;line-height:18.50px;color:#7a7a7a;letter-spacing:0.237px;transform:scaleX(1.0883);transform-origin:0 0;-webkit-text-stroke:0.40px #fff;">Climbing Stairs</div>
<div class="t" style="left:210.57px;top:2627.47px;font-size:18.50px;line-height:18.50px;color:#6b6b6b;font-weight:bold;letter-spacing:0.438px;transform:scaleX(1.1308);transform-origin:0 0;">63 min</div>
<div class="t" style="left:367.99px;top:2603.78px;font-size:18.50px;line-height:18.50px;color:#7a7a7a;letter-spacing:0.417px;transform:scaleX(1.1342);transform-origin:0 0;-webkit-text-stroke:0.40px #fff;">Jogging</div>
<div class="t" style="left:373.79px;top:2627.47px;font-size:18.50px;line-height:18.50px;color:#6b6b6b;font-weight:bold;letter-spacing:0.330px;transform:scaleX(1.0950);transform-origin:0 0;">34 min</div>
<div class="t" style="left:544.19px;top:2603.78px;font-size:18.50px;line-height:18.50px;color:#7a7a7a;letter-spacing:0.324px;transform:scaleX(1.1017);transform-origin:0 0;-webkit-text-stroke:0.40px #fff;">Tenis</div>
<div class="t" style="left:536.50px;top:2627.47px;font-size:18.50px;line-height:18.50px;color:#6b6b6b;font-weight:bold;letter-spacing:0.322px;transform:scaleX(1.0923);transform-origin:0 0;">49 min</div>
<div class="b" style="left:-20.0px;top:2713.2px;width:331.4px;height:13.4px;background:#65b08f;border-radius:6.7px;"></div>
<div class="b" style="left:314.6px;top:2712.8px;width:14.4px;height:14.4px;background:#65b08f;border-radius:50%;"></div>
<div class="b" style="left:-20.0px;top:2720.0px;width:400.8px;height:21.7px;background:#65b08f;border-radius:10.8px;"></div>
<div class="b" style="left:-20.0px;top:2735.0px;width:96.3px;height:21.2px;background:#65b08f;border-radius:0.0px;"></div>
<div class="b" style="left:300.0px;top:2741.7px;width:110.6px;height:14.5px;background:#65b08f;border-radius:7.2px;"></div>
<div class="b" style="left:415.9px;top:2741.7px;width:15.0px;height:15.0px;background:#65b08f;border-radius:50%;"></div>
<div class="b" style="left:25.9px;top:2740.4px;width:15.2px;height:15.2px;background:#79c1a0;border-radius:50%;"></div>
<div class="b" style="left:45.4px;top:2740.4px;width:294.4px;height:15.8px;background:#79c1a0;border-radius:7.9px;"></div>
<div class="b" style="left:344.3px;top:2741.5px;width:15.0px;height:15.0px;background:#79c1a0;border-radius:50%;"></div>
<div class="b" style="left:76.3px;top:2750.0px;width:235.1px;height:17.5px;background:#79c1a0;border-radius:8.8px;"></div>
<div class="t" style="left:402.07px;top:2691.30px;font-size:44.00px;line-height:44.00px;color:#4da67b;font-weight:bold;letter-spacing:0.435px;transform:scaleX(1.0467);transform-origin:0 0;">VITAMINS</div>
<div class="t" style="left:441.78px;top:2738.62px;font-size:19.50px;line-height:19.50px;color:#5fb08c;letter-spacing:-0.165px;transform:scaleX(0.9572);transform-origin:0 0;-webkit-text-stroke:0.50px #fff;">(% OF DAILY VALUE)</div>
<div class="b" style="left:71.6px;top:2813.4px;width:534.1px;height:1.2px;background:#e0e0e0;border-radius:0.0px;"></div>
<div class="t" style="left:27.18px;top:2803.88px;font-size:20.50px;line-height:20.50px;color:#9a9a9a;transform:scaleX(1.0540);transform-origin:0 0;-webkit-text-stroke:0.50px #fff;">100</div>
<div class="b" style="left:71.6px;top:2848.8px;width:534.1px;height:1.2px;background:#e0e0e0;border-radius:0.0px;"></div>
<div class="t" style="left:36.85px;top:2839.32px;font-size:20.50px;line-height:20.50px;color:#9a9a9a;transform:scaleX(1.1594);transform-origin:0 0;-webkit-text-stroke:0.50px #fff;">80</div>
<div class="b" style="left:71.6px;top:2884.3px;width:534.1px;height:1.2px;background:#e0e0e0;border-radius:0.0px;"></div>
<div class="t" style="left:36.60px;top:2874.76px;font-size:20.50px;line-height:20.50px;color:#9a9a9a;transform:scaleX(1.1707);transform-origin:0 0;-webkit-text-stroke:0.50px #fff;">60</div>
<div class="b" style="left:71.6px;top:2919.7px;width:534.1px;height:1.2px;background:#e0e0e0;border-radius:0.0px;"></div>
<div class="t" style="left:37.33px;top:2910.20px;font-size:20.50px;line-height:20.50px;color:#9a9a9a;transform:scaleX(1.1374);transform-origin:0 0;-webkit-text-stroke:0.50px #fff;">40</div>
<div class="b" style="left:71.6px;top:2955.2px;width:534.1px;height:1.2px;background:#e0e0e0;border-radius:0.0px;"></div>
<div class="t" style="left:36.60px;top:2945.64px;font-size:20.50px;line-height:20.50px;color:#9a9a9a;transform:scaleX(1.1707);transform-origin:0 0;-webkit-text-stroke:0.50px #fff;">20</div>
<div class="b" style="left:71.6px;top:2990.6px;width:534.1px;height:1.2px;background:#cfcfcf;border-radius:0.0px;"></div>
<div class="t" style="left:51.74px;top:2981.07px;font-size:20.50px;line-height:20.50px;color:#9a9a9a;-webkit-text-stroke:0.50px #fff;">0</div>
<div class="b" style="left:71.0px;top:2810.0px;width:1.2px;height:181.8px;background:#cfcfcf;border-radius:0.0px;"></div>
<div class="b" style="left:85.4px;top:2975.3px;width:16.0px;height:15.9px;background:#69b68c;border-radius:0.0px;"></div>
<div class="t" style="left:87.57px;top:2947.60px;font-size:21.00px;line-height:21.00px;color:#6fb993;-webkit-text-stroke:0.50px #fff;">9</div>
<div class="t" style="left:86.25px;top:3000.12px;font-size:21.50px;line-height:21.50px;color:#777777;-webkit-text-stroke:0.40px #fff;">A</div>
<div class="b" style="left:129.9px;top:2964.6px;width:16.0px;height:26.6px;background:#69b68c;border-radius:0.0px;"></div>
<div class="t" style="left:125.84px;top:2936.97px;font-size:21.00px;line-height:21.00px;color:#6fb993;-webkit-text-stroke:0.50px #fff;">15</div>
<div class="t" style="left:124.37px;top:3000.12px;font-size:21.50px;line-height:21.50px;color:#777777;-webkit-text-stroke:0.40px #fff;">B1</div>
<div class="b" style="left:174.3px;top:2948.7px;width:16.0px;height:42.5px;background:#69b68c;border-radius:0.0px;"></div>
<div class="t" style="left:170.40px;top:2921.02px;font-size:21.00px;line-height:21.00px;color:#6fb993;-webkit-text-stroke:0.50px #fff;">24</div>
<div class="t" style="left:168.83px;top:3000.12px;font-size:21.50px;line-height:21.50px;color:#777777;-webkit-text-stroke:0.40px #fff;">B2</div>
<div class="b" style="left:218.8px;top:2975.3px;width:16.0px;height:15.9px;background:#69b68c;border-radius:0.0px;"></div>
<div class="t" style="left:220.95px;top:2947.60px;font-size:21.00px;line-height:21.00px;color:#6fb993;-webkit-text-stroke:0.50px #fff;">9</div>
<div class="t" style="left:213.24px;top:3000.12px;font-size:21.50px;line-height:21.50px;color:#777777;-webkit-text-stroke:0.40px #fff;">B3</div>
<div class="b" style="left:263.2px;top:2980.6px;width:16.0px;height:10.6px;background:#69b68c;border-radius:0.0px;"></div>
<div class="t" style="left:265.31px;top:2952.92px;font-size:21.00px;line-height:21.00px;color:#6fb993;-webkit-text-stroke:0.50px #fff;">6</div>
<div class="t" style="left:257.69px;top:3000.12px;font-size:21.50px;line-height:21.50px;color:#777777;-webkit-text-stroke:0.40px #fff;">B5</div>
<div class="b" style="left:307.7px;top:2984.1px;width:16.0px;height:7.1px;background:#69b68c;border-radius:0.0px;"></div>
<div class="t" style="left:309.93px;top:2956.46px;font-size:21.00px;line-height:21.00px;color:#6fb993;-webkit-text-stroke:0.50px #fff;">4</div>
<div class="t" style="left:302.16px;top:3000.12px;font-size:21.50px;line-height:21.50px;color:#777777;-webkit-text-stroke:0.40px #fff;">B6</div>
<div class="b" style="left:352.2px;top:2946.9px;width:16.0px;height:44.3px;background:#69b68c;border-radius:0.0px;"></div>
<div class="t" style="left:348.40px;top:2919.25px;font-size:21.00px;line-height:21.00px;color:#6fb993;-webkit-text-stroke:0.50px #fff;">25</div>
<div class="t" style="left:346.67px;top:3000.12px;font-size:21.50px;line-height:21.50px;color:#777777;-webkit-text-stroke:0.40px #fff;">B9</div>
<div class="b" style="left:396.6px;top:2973.5px;width:16.0px;height:17.7px;background:#69b68c;border-radius:0.0px;"></div>
<div class="t" style="left:392.55px;top:2945.83px;font-size:21.00px;line-height:21.00px;color:#6fb993;-webkit-text-stroke:0.50px #fff;">10</div>
<div class="t" style="left:385.11px;top:3000.12px;font-size:21.50px;line-height:21.50px;color:#777777;-webkit-text-stroke:0.40px #fff;">B12</div>
<div class="b" style="left:441.1px;top:2989.7px;width:16.0px;height:1.5px;background:#69b68c;border-radius:0.0px;"></div>
<div class="t" style="left:443.25px;top:2962.05px;font-size:21.00px;line-height:21.00px;color:#6fb993;-webkit-text-stroke:0.50px #fff;">0</div>
<div class="t" style="left:441.18px;top:3000.12px;font-size:21.50px;line-height:21.50px;color:#777777;-webkit-text-stroke:0.40px #fff;">C</div>
<div class="b" style="left:485.5px;top:2980.6px;width:16.0px;height:10.6px;background:#69b68c;border-radius:0.0px;"></div>
<div class="t" style="left:487.61px;top:2952.92px;font-size:21.00px;line-height:21.00px;color:#6fb993;-webkit-text-stroke:0.50px #fff;">6</div>
<div class="t" style="left:485.42px;top:3000.12px;font-size:21.50px;line-height:21.50px;color:#777777;-webkit-text-stroke:0.40px #fff;">D</div>
<div class="b" style="left:530.0px;top:2988.2px;width:16.0px;height:3.0px;background:#69b68c;border-radius:0.0px;"></div>
<div class="t" style="left:531.86px;top:2960.55px;font-size:21.00px;line-height:21.00px;color:#6fb993;-webkit-text-stroke:0.50px #fff;">1</div>
<div class="t" style="left:530.42px;top:3000.12px;font-size:21.50px;line-height:21.50px;color:#777777;-webkit-text-stroke:0.40px #fff;">E</div>
<div class="b" style="left:574.5px;top:2988.2px;width:16.0px;height:3.0px;background:#69b68c;border-radius:0.0px;"></div>
<div class="t" style="left:576.32px;top:2960.55px;font-size:21.00px;line-height:21.00px;color:#6fb993;-webkit-text-stroke:0.50px #fff;">1</div>
<div class="t" style="left:574.50px;top:3000.12px;font-size:21.50px;line-height:21.50px;color:#777777;-webkit-text-stroke:0.40px #fff;">K</div>
<div class="t" style="left:30.66px;top:3074.10px;font-size:44.00px;line-height:44.00px;color:#7d61e0;font-weight:bold;letter-spacing:-0.089px;transform:scaleX(0.9917);transform-origin:0 0;">MINERALS</div>
<div class="t" style="left:29.58px;top:3120.12px;font-size:19.50px;line-height:19.50px;color:#8e77dc;letter-spacing:-0.172px;transform:scaleX(0.9556);transform-origin:0 0;-webkit-text-stroke:0.50px #fff;">(% OF DAILY VALUE)</div>
<div class="b" style="left:222.5px;top:3124.3px;width:15.0px;height:15.0px;background:#925ef2;border-radius:50%;"></div>
<div class="b" style="left:242.7px;top:3124.0px;width:457.3px;height:15.5px;background:#925ef2;border-radius:7.8px;"></div>
<div class="b" style="left:272.3px;top:3110.4px;width:427.7px;height:19.6px;background:#925ef2;border-radius:9.8px;"></div>
<div class="b" style="left:324.2px;top:3095.7px;width:14.6px;height:14.6px;background:#925ef2;border-radius:50%;"></div>
<div class="b" style="left:342.2px;top:3095.8px;width:357.8px;height:19.2px;background:#925ef2;border-radius:9.6px;"></div>
<div class="b" style="left:312.3px;top:3117.7px;width:15.0px;height:15.0px;background:#c7a6fa;border-radius:50%;"></div>
<div class="b" style="left:333.0px;top:3117.7px;width:253.9px;height:14.8px;background:#c7a6fa;border-radius:7.4px;"></div>
<div class="b" style="left:363.0px;top:3104.3px;width:193.8px;height:13.6px;background:#c7a6fa;border-radius:6.8px;"></div>
<div class="b" style="left:400.0px;top:3110.0px;width:140.0px;height:15.0px;background:#c7a6fa;border-radius:0.0px;"></div>
<div class="b" style="left:591.8px;top:3117.5px;width:15.0px;height:15.0px;background:#c7a6fa;border-radius:50%;"></div>
<div class="b" style="left:71.6px;top:3196.9px;width:534.1px;height:1.2px;background:#e0e0e0;border-radius:0.0px;"></div>
<div class="t" style="left:27.18px;top:3187.38px;font-size:20.50px;line-height:20.50px;color:#9a9a9a;transform:scaleX(1.0540);transform-origin:0 0;-webkit-text-stroke:0.50px #fff;">100</div>
<div class="b" style="left:71.6px;top:3232.5px;width:534.1px;height:1.2px;background:#e0e0e0;border-radius:0.0px;"></div>
<div class="t" style="left:36.85px;top:3222.93px;font-size:20.50px;line-height:20.50px;color:#9a9a9a;transform:scaleX(1.1594);transform-origin:0 0;-webkit-text-stroke:0.50px #fff;">80</div>
<div class="b" style="left:71.6px;top:3268.0px;width:534.1px;height:1.2px;background:#e0e0e0;border-radius:0.0px;"></div>
<div class="t" style="left:36.60px;top:3258.49px;font-size:20.50px;line-height:20.50px;color:#9a9a9a;transform:scaleX(1.1707);transform-origin:0 0;-webkit-text-stroke:0.50px #fff;">60</div>
<div class="b" style="left:71.6px;top:3303.6px;width:534.1px;height:1.2px;background:#e0e0e0;border-radius:0.0px;"></div>
<div class="t" style="left:37.33px;top:3294.05px;font-size:20.50px;line-height:20.50px;color:#9a9a9a;transform:scaleX(1.1374);transform-origin:0 0;-webkit-text-stroke:0.50px #fff;">40</div>
<div class="b" style="left:71.6px;top:3339.1px;width:534.1px;height:1.2px;background:#e0e0e0;border-radius:0.0px;"></div>
<div class="t" style="left:36.60px;top:3329.61px;font-size:20.50px;line-height:20.50px;color:#9a9a9a;transform:scaleX(1.1707);transform-origin:0 0;-webkit-text-stroke:0.50px #fff;">20</div>
<div class="b" style="left:71.6px;top:3374.7px;width:534.1px;height:1.2px;background:#cfcfcf;border-radius:0.0px;"></div>
<div class="t" style="left:51.74px;top:3365.18px;font-size:20.50px;line-height:20.50px;color:#9a9a9a;-webkit-text-stroke:0.50px #fff;">0</div>
<div class="b" style="left:71.0px;top:3193.5px;width:1.2px;height:182.4px;background:#cfcfcf;border-radius:0.0px;"></div>
<div class="b" style="left:92.5px;top:3327.3px;width:16.0px;height:48.0px;background:#7b67e1;border-radius:0.0px;"></div>
<div class="t" style="left:88.79px;top:3299.64px;font-size:21.00px;line-height:21.00px;color:#8b7be2;-webkit-text-stroke:0.50px #fff;">27</div>
<div class="t" style="left:86.20px;top:3384.22px;font-size:21.50px;line-height:21.50px;color:#777777;-webkit-text-stroke:0.40px #fff;">Ca</div>
<div class="b" style="left:151.8px;top:3370.0px;width:16.0px;height:5.3px;background:#7b67e1;border-radius:0.0px;"></div>
<div class="t" style="left:154.03px;top:3342.32px;font-size:21.00px;line-height:21.00px;color:#8b7be2;-webkit-text-stroke:0.50px #fff;">3</div>
<div class="t" style="left:146.26px;top:3384.22px;font-size:21.50px;line-height:21.50px;color:#777777;-webkit-text-stroke:0.40px #fff;">Cu</div>
<div class="b" style="left:211.1px;top:3357.5px;width:16.0px;height:17.8px;background:#7b67e1;border-radius:0.0px;"></div>
<div class="t" style="left:207.03px;top:3329.87px;font-size:21.00px;line-height:21.00px;color:#8b7be2;-webkit-text-stroke:0.50px #fff;">10</div>
<div class="t" style="left:206.15px;top:3384.22px;font-size:21.50px;line-height:21.50px;color:#777777;-webkit-text-stroke:0.40px #fff;">Fe</div>
<div class="b" style="left:270.4px;top:3368.2px;width:16.0px;height:7.1px;background:#7b67e1;border-radius:0.0px;"></div>
<div class="t" style="left:272.62px;top:3340.54px;font-size:21.00px;line-height:21.00px;color:#8b7be2;-webkit-text-stroke:0.50px #fff;">4</div>
<div class="t" style="left:270.44px;top:3384.22px;font-size:21.50px;line-height:21.50px;color:#777777;-webkit-text-stroke:0.40px #fff;">K</div>
<div class="b" style="left:329.7px;top:3368.2px;width:16.0px;height:7.1px;background:#7b67e1;border-radius:0.0px;"></div>
<div class="t" style="left:331.92px;top:3340.54px;font-size:21.00px;line-height:21.00px;color:#8b7be2;-webkit-text-stroke:0.50px #fff;">4</div>
<div class="t" style="left:322.54px;top:3384.22px;font-size:21.50px;line-height:21.50px;color:#777777;-webkit-text-stroke:0.40px #fff;">Mg</div>
<div class="b" style="left:389.0px;top:3357.5px;width:16.0px;height:17.8px;background:#7b67e1;border-radius:0.0px;"></div>
<div class="t" style="left:384.93px;top:3329.87px;font-size:21.00px;line-height:21.00px;color:#8b7be2;-webkit-text-stroke:0.50px #fff;">10</div>
<div class="t" style="left:381.84px;top:3384.22px;font-size:21.50px;line-height:21.50px;color:#777777;-webkit-text-stroke:0.40px #fff;">Mn</div>
<div class="b" style="left:448.3px;top:3330.9px;width:16.0px;height:44.4px;background:#7b67e1;border-radius:0.0px;"></div>
<div class="t" style="left:444.54px;top:3303.20px;font-size:21.00px;line-height:21.00px;color:#8b7be2;-webkit-text-stroke:0.50px #fff;">25</div>
<div class="t" style="left:448.83px;top:3384.22px;font-size:21.50px;line-height:21.50px;color:#777777;-webkit-text-stroke:0.40px #fff;">P</div>
<div class="b" style="left:507.6px;top:3307.7px;width:16.0px;height:67.6px;background:#7b67e1;border-radius:0.0px;"></div>
<div class="t" style="left:504.00px;top:3280.09px;font-size:21.00px;line-height:21.00px;color:#8b7be2;-webkit-text-stroke:0.50px #fff;">38</div>
<div class="t" style="left:502.43px;top:3384.22px;font-size:21.50px;line-height:21.50px;color:#777777;-webkit-text-stroke:0.40px #fff;">Se</div>
<div class="b" style="left:566.9px;top:3355.7px;width:16.0px;height:19.6px;background:#7b67e1;border-radius:0.0px;"></div>
<div class="t" style="left:563.72px;top:3328.09px;font-size:21.00px;line-height:21.00px;color:#8b7be2;-webkit-text-stroke:0.50px #fff;">11</div>
<div class="t" style="left:562.70px;top:3384.22px;font-size:21.50px;line-height:21.50px;color:#777777;-webkit-text-stroke:0.40px #fff;">Zn</div>
<div class="b" style="left:-20.0px;top:3462.4px;width:300.0px;height:14.4px;background:#efc36e;border-radius:7.2px;"></div>
<div class="b" style="left:285.4px;top:3462.6px;width:14.0px;height:14.0px;background:#efc36e;border-radius:50%;"></div>
<div class="b" style="left:-20.0px;top:3470.0px;width:269.0px;height:21.3px;background:#efc36e;border-radius:10.7px;"></div>
<div class="b" style="left:-20.0px;top:3485.0px;width:198.9px;height:20.7px;background:#efc36e;border-radius:10.3px;"></div>
<div class="b" style="left:183.0px;top:3491.3px;width:14.4px;height:14.4px;background:#efc36e;border-radius:50%;"></div>
<div class="b" style="left:-20.0px;top:3476.8px;width:209.2px;height:14.5px;background:#f9d68c;border-radius:7.2px;"></div>
<div class="b" style="left:193.3px;top:3476.8px;width:14.4px;height:14.4px;background:#f9d68c;border-radius:50%;"></div>
<div class="b" style="left:-20.0px;top:3491.3px;width:178.9px;height:14.4px;background:#f9d68c;border-radius:7.2px;"></div>
<div class="b" style="left:-20.0px;top:3485.0px;width:170.0px;height:13.0px;background:#f9d68c;border-radius:0.0px;"></div>
<div class="t" style="left:314.76px;top:3453.59px;font-size:44.60px;line-height:44.60px;color:#ebc270;font-weight:bold;letter-spacing:0.213px;transform:scaleX(1.0221);transform-origin:0 0;">AMINO ACIDS</div>
<div class="t" style="left:257.64px;top:3501.32px;font-size:17.50px;line-height:17.50px;color:#e9c57a;letter-spacing:0.075px;transform:scaleX(1.0211);transform-origin:0 0;-webkit-text-stroke:0.40px #fff;">THESE ARE ESSENTIAL FOR YOUR BODY</div>
<div class="b" style="left:90.5px;top:3550.1px;width:25.0px;height:25.0px;background:#f9d68c;border-radius:50%;"></div>
<div class="b" style="left:43.0px;top:3595.0px;width:18.0px;height:18.0px;background:#f9d68c;border-radius:50%;"></div>
<div class="b" style="left:44.7px;top:3551.7px;width:65.6px;height:65.6px;background:#efc36e;border-radius:50%;"></div>
<div class="t" style="left:52.30px;top:3569.35px;font-size:21.00px;line-height:21.00px;color:#ffffff;font-weight:bold;letter-spacing:0.611px;transform:scaleX(1.1613);transform-origin:0 0;">0.48</div>
<div class="t" style="left:73.99px;top:3589.05px;font-size:15.00px;line-height:15.00px;color:#ffffff;">g</div>
<div class="t" style="left:36.33px;top:3630.15px;font-size:19.00px;line-height:19.00px;color:#666666;letter-spacing:0.257px;transform:scaleX(1.0958);transform-origin:0 0;-webkit-text-stroke:0.35px #fff;">Histidine</div>
<div class="b" style="left:170.0px;top:3551.5px;width:17.0px;height:17.0px;background:#f9d68c;border-radius:50%;"></div>
<div class="b" style="left:216.0px;top:3589.0px;width:26.0px;height:26.0px;background:#f9d68c;border-radius:50%;"></div>
<div class="b" style="left:170.3px;top:3551.7px;width:65.6px;height:65.6px;background:#efc36e;border-radius:50%;"></div>
<div class="t" style="left:177.89px;top:3569.35px;font-size:21.00px;line-height:21.00px;color:#ffffff;font-weight:bold;letter-spacing:0.630px;transform:scaleX(1.1686);transform-origin:0 0;">0.77</div>
<div class="t" style="left:199.59px;top:3589.05px;font-size:15.00px;line-height:15.00px;color:#ffffff;">g</div>
<div class="t" style="left:152.01px;top:3630.15px;font-size:19.00px;line-height:19.00px;color:#666666;letter-spacing:0.291px;transform:scaleX(1.1045);transform-origin:0 0;-webkit-text-stroke:0.35px #fff;">Isoleucine</div>
<div class="b" style="left:295.0px;top:3551.0px;width:18.0px;height:18.0px;background:#f9d68c;border-radius:50%;"></div>
<div class="b" style="left:342.0px;top:3552.0px;width:22.0px;height:22.0px;background:#f9d68c;border-radius:50%;"></div>
<div class="b" style="left:293.0px;top:3592.0px;width:16.0px;height:16.0px;background:#f9d68c;border-radius:50%;"></div>
<div class="b" style="left:294.9px;top:3551.7px;width:65.6px;height:65.6px;background:#efc36e;border-radius:50%;"></div>
<div class="t" style="left:301.86px;top:3569.35px;font-size:21.00px;line-height:21.00px;color:#ffffff;font-weight:bold;letter-spacing:0.654px;transform:scaleX(1.1786);transform-origin:0 0;">1.46</div>
<div class="t" style="left:324.19px;top:3589.05px;font-size:15.00px;line-height:15.00px;color:#ffffff;">g</div>
<div class="t" style="left:287.83px;top:3630.15px;font-size:19.00px;line-height:19.00px;color:#666666;letter-spacing:0.318px;transform:scaleX(1.0979);transform-origin:0 0;-webkit-text-stroke:0.35px #fff;">Leucine</div>
<div class="b" style="left:462.5px;top:3551.5px;width:23.0px;height:23.0px;background:#f9d68c;border-radius:50%;"></div>
<div class="b" style="left:417.5px;top:3594.5px;width:15.0px;height:15.0px;background:#f9d68c;border-radius:50%;"></div>
<div class="b" style="left:418.7px;top:3551.7px;width:65.6px;height:65.6px;background:#efc36e;border-radius:50%;"></div>
<div class="t" style="left:425.66px;top:3569.35px;font-size:21.00px;line-height:21.00px;color:#ffffff;font-weight:bold;letter-spacing:0.654px;transform:scaleX(1.1786);transform-origin:0 0;">1.22</div>
<div class="t" style="left:447.99px;top:3589.05px;font-size:15.00px;line-height:15.00px;color:#ffffff;">g</div>
<div class="t" style="left:421.20px;top:3630.15px;font-size:19.00px;line-height:19.00px;color:#666666;letter-spacing:0.172px;transform:scaleX(1.0525);transform-origin:0 0;-webkit-text-stroke:0.35px #fff;">Lysine</div>
<div class="b" style="left:544.0px;top:3551.0px;width:20.0px;height:20.0px;background:#f9d68c;border-radius:50%;"></div>
<div class="b" style="left:543.5px;top:3592.5px;width:15.0px;height:15.0px;background:#f9d68c;border-radius:50%;"></div>
<div class="b" style="left:544.9px;top:3551.7px;width:65.6px;height:65.6px;background:#efc36e;border-radius:50%;"></div>
<div class="t" style="left:552.50px;top:3569.35px;font-size:21.00px;line-height:21.00px;color:#ffffff;font-weight:bold;letter-spacing:0.611px;transform:scaleX(1.1613);transform-origin:0 0;">0.38</div>
<div class="t" style="left:574.19px;top:3589.05px;font-size:15.00px;line-height:15.00px;color:#ffffff;">g</div>
<div class="t" style="left:520.83px;top:3630.15px;font-size:19.00px;line-height:19.00px;color:#666666;letter-spacing:0.293px;transform:scaleX(1.0957);transform-origin:0 0;-webkit-text-stroke:0.35px #fff;">Methionine</div>
<div class="b" style="left:92.0px;top:3681.0px;width:24.0px;height:24.0px;background:#f9d68c;border-radius:50%;"></div>
<div class="b" style="left:43.0px;top:3726.0px;width:16.0px;height:16.0px;background:#f9d68c;border-radius:50%;"></div>
<div class="b" style="left:45.1px;top:3682.0px;width:65.6px;height:65.6px;background:#efc36e;border-radius:50%;"></div>
<div class="t" style="left:59.75px;top:3699.65px;font-size:21.00px;line-height:21.00px;color:#ffffff;font-weight:bold;letter-spacing:0.652px;transform:scaleX(1.1630);transform-origin:0 0;">0.8</div>
<div class="t" style="left:74.39px;top:3719.35px;font-size:15.00px;line-height:15.00px;color:#ffffff;">g</div>
<div class="t" style="left:9.75px;top:3760.45px;font-size:19.00px;line-height:19.00px;color:#666666;letter-spacing:0.260px;transform:scaleX(1.0869);transform-origin:0 0;-webkit-text-stroke:0.35px #fff;">Phenylalanine</div>
<div class="b" style="left:169.0px;top:3681.0px;width:20.0px;height:20.0px;background:#f9d68c;border-radius:50%;"></div>
<div class="b" style="left:215.0px;top:3720.0px;width:26.0px;height:26.0px;background:#f9d68c;border-radius:50%;"></div>
<div class="b" style="left:169.7px;top:3682.0px;width:65.6px;height:65.6px;background:#efc36e;border-radius:50%;"></div>
<div class="t" style="left:177.29px;top:3699.65px;font-size:21.00px;line-height:21.00px;color:#ffffff;font-weight:bold;letter-spacing:0.623px;transform:scaleX(1.1662);transform-origin:0 0;">0.63</div>
<div class="t" style="left:198.99px;top:3719.35px;font-size:15.00px;line-height:15.00px;color:#ffffff;">g</div>
<div class="t" style="left:154.21px;top:3760.45px;font-size:19.00px;line-height:19.00px;color:#666666;letter-spacing:0.119px;transform:scaleX(1.0350);transform-origin:0 0;-webkit-text-stroke:0.35px #fff;">Threonine</div>
<div class="b" style="left:294.5px;top:3681.5px;width:19.0px;height:19.0px;background:#f9d68c;border-radius:50%;"></div>
<div class="b" style="left:339.0px;top:3718.5px;width:25.0px;height:25.0px;background:#f9d68c;border-radius:50%;"></div>
<div class="b" style="left:295.1px;top:3682.0px;width:65.6px;height:65.6px;background:#efc36e;border-radius:50%;"></div>
<div class="t" style="left:302.70px;top:3699.65px;font-size:21.00px;line-height:21.00px;color:#ffffff;font-weight:bold;letter-spacing:0.611px;transform:scaleX(1.1613);transform-origin:0 0;">0.21</div>
<div class="t" style="left:324.39px;top:3719.35px;font-size:15.00px;line-height:15.00px;color:#ffffff;">g</div>
<div class="t" style="left:273.49px;top:3760.45px;font-size:19.00px;line-height:19.00px;color:#666666;letter-spacing:0.263px;transform:scaleX(1.0818);transform-origin:0 0;-webkit-text-stroke:0.35px #fff;">Tryptophan</div>
<div class="b" style="left:418.0px;top:3681.0px;width:20.0px;height:20.0px;background:#f9d68c;border-radius:50%;"></div>
<div class="b" style="left:462.5px;top:3681.0px;width:24.0px;height:24.0px;background:#f9d68c;border-radius:50%;"></div>
<div class="b" style="left:416.0px;top:3725.0px;width:16.0px;height:16.0px;background:#f9d68c;border-radius:50%;"></div>
<div class="b" style="left:418.1px;top:3682.0px;width:65.6px;height:65.6px;background:#efc36e;border-radius:50%;"></div>
<div class="t" style="left:425.69px;top:3699.65px;font-size:21.00px;line-height:21.00px;color:#ffffff;font-weight:bold;letter-spacing:0.623px;transform:scaleX(1.1662);transform-origin:0 0;">0.93</div>
<div class="t" style="left:447.39px;top:3719.35px;font-size:15.00px;line-height:15.00px;color:#ffffff;">g</div>
<div class="t" style="left:420.90px;top:3760.45px;font-size:19.00px;line-height:19.00px;color:#666666;letter-spacing:0.282px;transform:scaleX(1.0913);transform-origin:0 0;-webkit-text-stroke:0.35px #fff;">Valine</div>
<div class="b" style="left:517.0px;top:3700.0px;width:143.0px;height:12.0px;background:#f4f4f4;border-radius:6.0px;"></div>
<div class="b" style="left:517.0px;top:3700.0px;width:43.0px;height:20.0px;background:#f4f4f4;border-radius:6.0px;"></div>
<div class="b" style="left:590.0px;top:3708.0px;width:70.0px;height:16.0px;background:#f4f4f4;border-radius:6.0px;"></div>
<div class="b" style="left:524.0px;top:3721.0px;width:12.0px;height:12.0px;background:#f4f4f4;border-radius:50%;"></div>
<div class="b" style="left:545.0px;top:3721.0px;width:115.0px;height:12.0px;background:#f4f4f4;border-radius:6.0px;"></div>
<svg class="b" style="left:0;top:3800px" width="650" height="265" viewBox="0 3800 650 265"><path d="M-10.00 3818.50 C-8.33 3818.58 -9.17 3818.08 0.00 3819.00 C9.17 3819.92 21.83 3821.67 45.00 3824.00 C68.17 3826.33 103.17 3833.67 139.00 3833.00 C174.83 3832.33 223.33 3822.83 260.00 3820.00 C296.67 3817.17 327.17 3814.83 359.00 3816.00 C390.83 3817.17 418.67 3823.83 451.00 3827.00 C483.33 3830.17 519.83 3834.67 553.00 3835.00 C586.17 3835.33 632.17 3830.17 650.00 3829.00 C667.83 3827.83 658.33 3828.17 660.00 3828.00 L660.00 3860.00 L-10.00 3860.00 Z" fill="#e1ad9f"/><path d="M-10.00 3834.00 C-8.33 3833.67 -8.83 3833.67 0.00 3832.00 C8.83 3830.33 19.83 3826.60 43.00 3824.00 C66.17 3821.40 109.50 3817.07 139.00 3816.40 C168.50 3815.73 185.50 3817.40 220.00 3820.00 C254.50 3822.60 309.33 3830.67 346.00 3832.00 C382.67 3833.33 405.50 3830.60 440.00 3828.00 C474.50 3825.40 518.00 3817.63 553.00 3816.40 C588.00 3815.17 632.17 3819.75 650.00 3820.60 C667.83 3821.45 658.33 3821.35 660.00 3821.50 L660.00 4065.00 L-10.00 4065.00 Z" fill="#bb867a"/></svg>
<svg class="b" style="left:255px;top:3840px" width="42" height="40" viewBox="0 0 42 40">
<path d="M19 36 L5 22 C0 17 1 9 7 6.5 C12 4.5 16 7 19 11 C21 8 23.5 6.5 26 6.5" fill="none" stroke="#ffffff" stroke-width="3" stroke-linecap="round" stroke-linejoin="round"/>
<path d="M19 36 L32 23 C34.5 20.5 35.5 17.5 35 14.5" fill="none" stroke="#ffffff" stroke-width="3" stroke-linecap="round" stroke-linejoin="round"/>
<path d="M27 19 C25 12 29 5 39 2 C40 9 36 16 27 19 Z" fill="#ffffff"/>
</svg>
<div class="t" style="left:302.97px;top:3845.25px;font-size:35.00px;line-height:35.00px;color:#ffffff;letter-spacing:0.507px;transform:scaleX(1.1111);transform-origin:0 0;-webkit-text-stroke:1.00px #bb867a;">inlivo</div>
<div class="t" style="left:208.01px;top:3884.72px;font-size:16.80px;line-height:16.80px;color:#ffffff;letter-spacing:0.258px;transform:scaleX(1.1092);transform-origin:0 0;-webkit-text-stroke:0.40px #bb867a;">Nutrition Tracker &amp; Health Coach</div>
<div class="t" style="left:253.70px;top:3903.35px;font-size:17.00px;line-height:17.00px;color:#ffffff;letter-spacing:0.431px;transform:scaleX(1.1708);transform-origin:0 0;-webkit-text-stroke:0.40px #bb867a;">www.inlivo.com</div>
<div class="b" style="left:253.0px;top:3921.5px;width:143.7px;height:1.2px;background:#ffffff;border-radius:0.0px;"></div>
<div class="t" style="left:91.01px;top:3938.08px;font-size:13.20px;line-height:13.20px;color:#ffffff;letter-spacing:0.055px;transform:scaleX(1.0292);transform-origin:0 0;">Nothing contained in this presentation and our services is intended or implied</div>
<div class="t" style="left:184.20px;top:3954.48px;font-size:13.20px;line-height:13.20px;color:#ffffff;letter-spacing:0.046px;transform:scaleX(1.0241);transform-origin:0 0;">to be a medical advice, diagnosis or treatment.</div>
<svg class="b" style="left:280px;top:3980px" width="100" height="60" viewBox="0 0 412 247">
<path d="M62 22 H272 V130 M62 22 V90" fill="none" stroke="#ffffff" stroke-width="13"/>
<rect x="98" y="132" width="132" height="28" fill="#ffffff"/>
<path d="M140 160 L195 160 L205 190 L130 190 Z" fill="#ffffff"/>
<circle cx="165" cy="146" r="5" fill="#bb867a"/>
<rect x="42" y="99" width="46" height="89" rx="6" fill="none" stroke="#ffffff" stroke-width="8"/>
<rect x="242" y="59" width="89" height="129" rx="7" fill="none" stroke="#ffffff" stroke-width="8"/>
<path d="M252 170 H322" stroke="#ffffff" stroke-width="6"/>
<circle cx="275" cy="178" r="4" fill="#ffffff"/><circle cx="287" cy="178" r="4" fill="#ffffff"/><circle cx="299" cy="178" r="4" fill="#ffffff"/>
</svg>
<div class="t" style="left:162.37px;top:4033.38px;font-size:13.20px;line-height:13.20px;color:#f0dcd6;font-weight:bold;letter-spacing:0.016px;transform:scaleX(1.0074);transform-origin:0 0;">Available on your desktop, tablet and mobile phone</div>
</body></html>
